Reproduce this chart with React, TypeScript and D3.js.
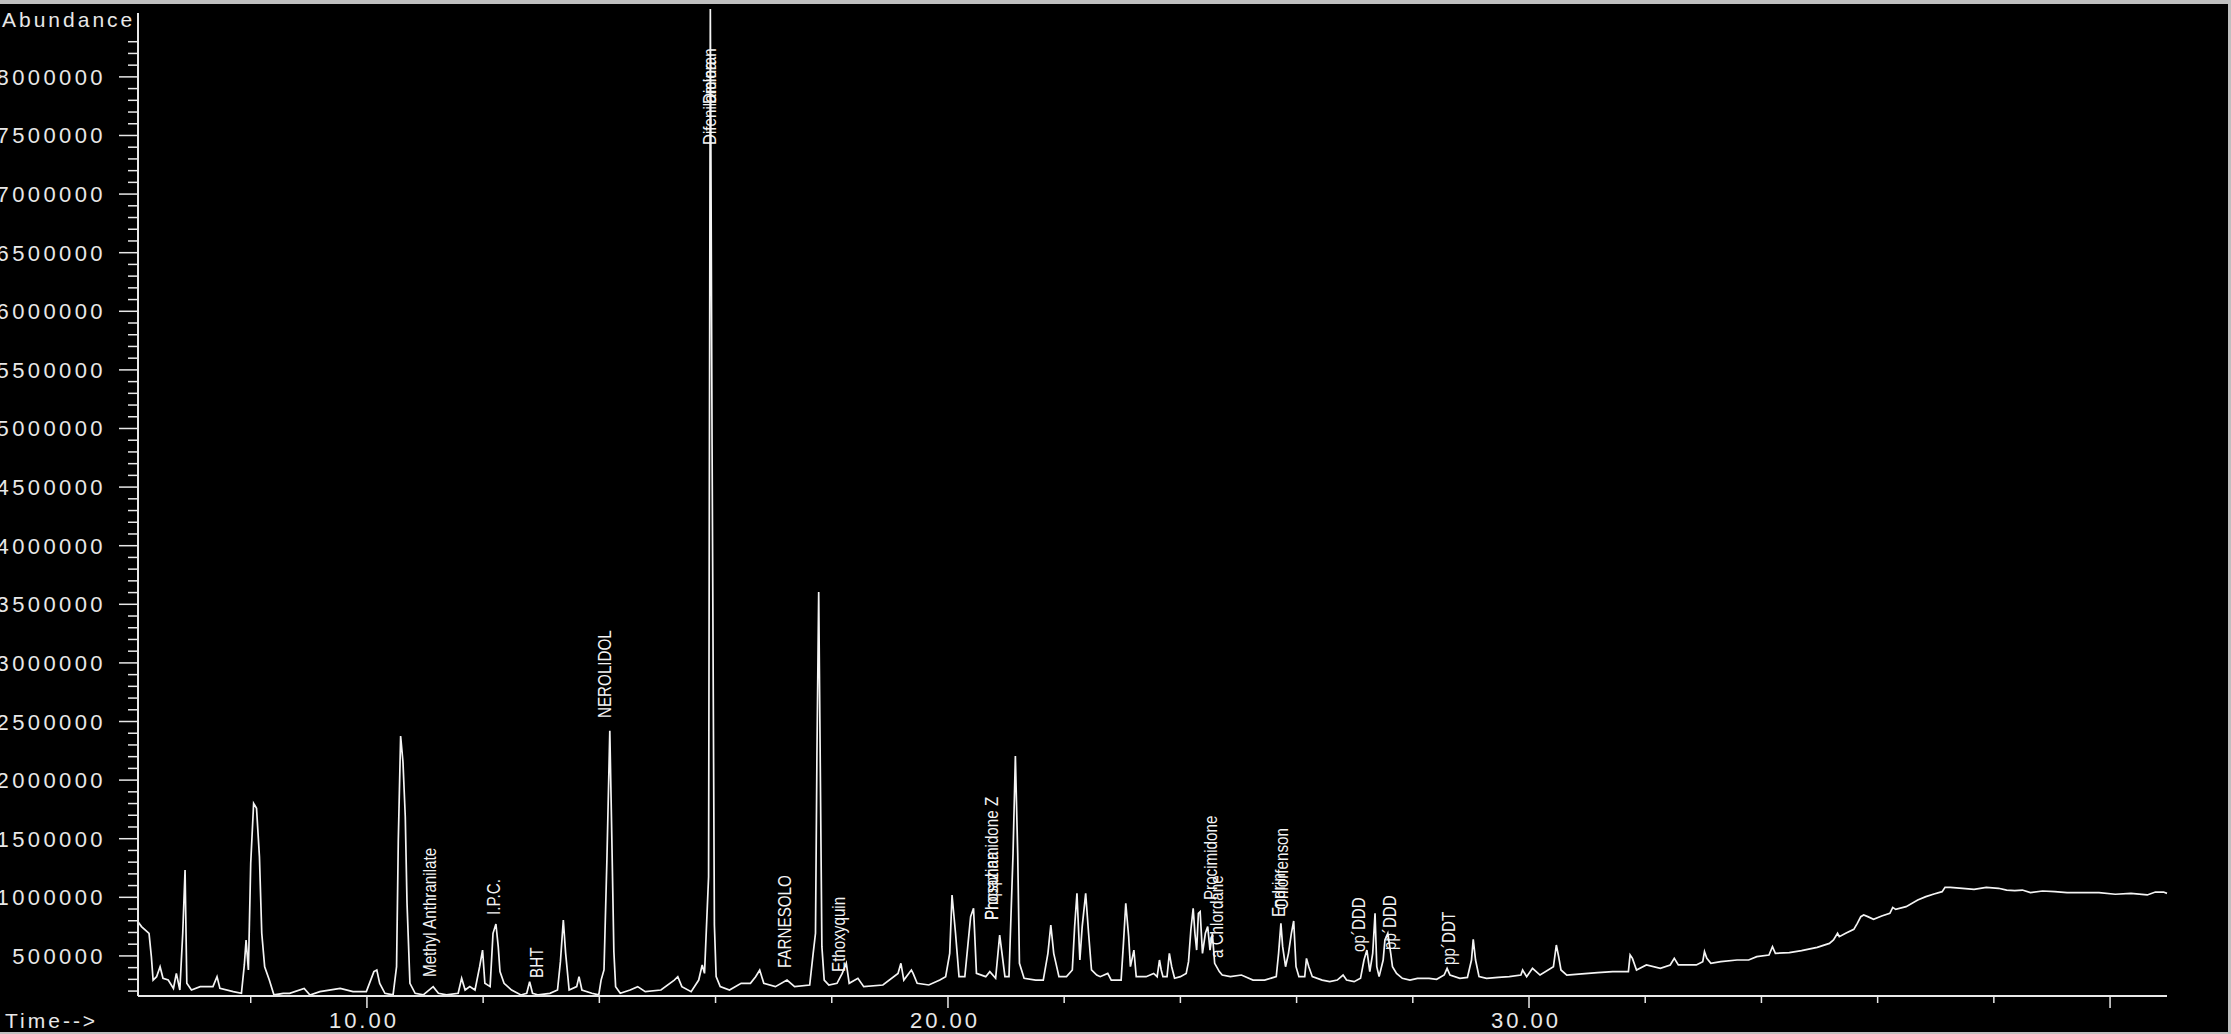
import React from "react";
import * as d3 from "d3";

const WIDTH = 2231;
const HEIGHT = 1034;

// Total ion chromatogram: retention time (min)
const TRACE_TIME = [
  6.06, 6.12, 6.25, 6.29, 6.32, 6.38, 6.44, 6.49, 6.58, 6.67, 6.72, 6.78, 6.83, 6.87, 6.9, 6.98,
  7.13, 7.35, 7.42, 7.47, 7.7, 7.84, 7.89, 7.92, 7.96, 8.0, 8.05, 8.1, 8.15, 8.19, 8.24, 8.32,
  8.4, 8.56, 8.67, 8.92, 9.02, 9.19, 9.54, 9.76, 9.99, 10.12, 10.17, 10.22, 10.31, 10.45, 10.51,
  10.54, 10.58, 10.62, 10.66, 10.69, 10.74, 10.83, 10.97, 11.14, 11.23, 11.37, 11.57, 11.63,
  11.69, 11.77, 11.86, 11.94, 11.99, 12.03, 12.12, 12.17, 12.22, 12.26,
  12.29, 12.36, 12.49, 12.65, 12.75, 12.8, 12.85, 12.95, 13.15, 13.28, 13.33, 13.38, 13.42,
  13.48, 13.61, 13.65, 13.7, 13.87, 13.99, 14.03, 14.08, 14.13, 14.18, 14.21, 14.25, 14.28,
  14.36, 14.53, 14.66, 14.79, 15.06, 15.29, 15.35, 15.42, 15.58, 15.71, 15.77, 15.81, 15.88,
  15.91, 15.94, 15.98, 16.01, 16.08, 16.24, 16.44, 16.6, 16.69, 16.76, 16.83, 17.03, 17.23,
  17.36, 17.62, 17.68, 17.72, 17.745, 17.775, 17.8, 17.83, 17.87, 17.95, 18.09, 18.18, 18.25,
  18.3, 18.45, 18.55, 18.88, 19.14, 19.19, 19.24, 19.37, 19.4, 19.47, 19.67, 19.86, 19.96,
  20.03, 20.07, 20.13, 20.19, 20.29, 20.34, 20.39, 20.44, 20.49, 20.65, 20.72, 20.82, 20.89,
  20.93, 20.98, 21.05, 21.12, 21.16, 21.2, 21.23, 21.31, 21.51, 21.64, 21.72, 21.77, 21.82,
  21.91, 22.04, 22.14, 22.18, 22.22, 22.27, 22.31, 22.37, 22.42, 22.47, 22.56,
  22.62, 22.75, 22.81, 22.98, 23.02, 23.06, 23.11, 23.14, 23.2, 23.24, 23.41, 23.54, 23.6,
  23.64, 23.67, 23.7, 23.77, 23.81, 23.85, 23.9, 24.0, 24.1, 24.14, 24.18, 24.22, 24.25, 24.28,
  24.31, 24.34, 24.38, 24.43, 24.47, 24.51, 24.55, 24.59, 24.67, 24.72, 24.86, 25.05, 25.25,
  25.45, 25.65, 25.69, 25.73, 25.76, 25.81, 25.86, 25.91, 25.95, 25.99, 26.04, 26.14, 26.17,
  26.21, 26.27, 26.44, 26.57, 26.7, 26.8, 26.86, 26.99, 27.1, 27.16, 27.21, 27.26, 27.31,
  27.35, 27.38, 27.42, 27.49, 27.52, 27.57, 27.62, 27.65, 27.72, 27.82, 27.95, 28.08, 28.28,
  28.41, 28.54, 28.59, 28.64, 28.81, 28.94, 29.01, 29.04, 29.08, 29.14, 29.27, 29.47, 29.66,
  29.86, 29.89, 29.96, 30.06, 30.19, 30.42, 30.47, 30.51, 30.55, 30.65, 30.91, 31.18,
  31.44, 31.71, 31.74, 31.78, 31.85, 32.02, 32.26, 32.43, 32.5, 32.57, 32.88, 32.99, 33.02,
  33.06, 33.13, 33.3, 33.58, 33.78, 33.92, 34.13, 34.19, 34.24, 34.48, 34.69, 34.96, 35.17,
  35.24, 35.31, 35.34, 35.45, 35.59, 35.65, 35.71, 35.76, 35.83, 35.93, 36.07, 36.21, 36.26,
  36.31, 36.49, 36.69, 36.83, 36.97, 37.11, 37.16, 37.25, 37.46, 37.66, 37.87, 38.08, 38.22,
  38.36, 38.49, 38.63, 38.84, 39.05, 39.26, 39.53, 39.81, 40.09, 40.36, 40.64, 40.78, 40.92,
  40.98,
];

// Abundance at each retention time (thousands of counts)
const TRACE_ABUNDANCE_K = [
  792, 750, 693, 494, 294, 323, 408, 309, 294, 223, 351, 209, 693, 1233, 266, 209,
  238, 238, 323, 223, 195, 181, 423, 636, 380, 1290, 1802, 1759, 1347, 693, 408, 294,
  167, 181, 181, 223, 167, 195, 223, 195, 195, 366, 380, 266, 181, 167, 408,
  1489, 2376, 2157, 1688, 949, 266, 181, 167, 238, 181, 167, 181, 309,
  209, 238, 209, 408, 550, 266, 238, 693, 772, 579,
  366, 266, 209, 167, 181, 280, 181, 167, 181, 209, 451, 806, 522,
  209, 238, 323, 209, 181, 167, 294, 380, 1318, 2422, 1631, 536, 238,
  181, 209, 238, 195, 209, 294, 323, 238, 195, 294, 423, 351, 1176,
  8580, 4860, 764, 323, 238, 209, 266, 266, 323, 380, 266, 238, 294,
  238, 252, 522, 693, 2222, 3605, 2250, 579, 294, 252, 266, 351, 437,
  266, 309, 238, 252, 351, 437, 294, 380, 351, 266, 252, 294, 323,
  522, 1020, 693, 323, 323, 579, 835, 906, 351, 323, 366, 309, 678,
  522, 323, 323, 1375, 2206, 1375, 437, 309, 294, 294, 522, 764, 522,
  323, 323, 380, 750, 1034, 465, 750, 1034, 693, 380, 337,
  323, 351, 294, 294, 607, 949, 664, 408, 550, 323, 323, 351, 323,
  465, 380, 323, 323, 522, 408, 309, 323, 351, 451, 721, 906, 693, 550,
  863, 878, 522, 693, 750, 550, 693, 437, 366, 337, 323, 337, 294,
  294, 323, 522, 778, 579, 408, 522, 693, 798, 408, 323, 323, 479,
  408, 323, 294, 280, 294, 337, 294, 280, 309, 465, 550, 366, 522,
  863, 408, 323, 465, 636, 693, 522, 408, 351, 309, 294, 309, 309,
  300, 337, 394, 337, 309, 317, 465, 641, 465, 323, 309, 317, 323,
  337, 380, 323, 394, 337, 408, 593, 494, 380, 337, 346, 357,
  366, 366, 508, 479, 380, 423, 394, 423, 479, 423, 423, 451, 536,
  479, 437, 451, 465, 465, 494, 508, 579, 522, 528, 545, 573, 607,
  636, 693, 664, 693, 727, 778, 835, 849, 835, 812, 840, 863, 914,
  897, 920, 977, 1006, 1028, 1048, 1085, 1085, 1077, 1068, 1085, 1077, 1062,
  1057, 1062, 1040, 1054, 1048, 1040, 1040, 1040, 1026, 1034, 1020, 1045, 1045,
  1034,
];

// Axis ticks
const Y_MAJOR_TICKS = d3.range(500000, 8000001, 500000);
const Y_MINOR_TICKS = d3.range(200000, 8300001, 100000).filter((v) => v % 500000 !== 0);
const X_MAJOR_TICKS = [10, 20, 30, 40];
const X_TICK_LABELS = ["10.00", "20.00", "30.00", ""];
const X_MINOR_TICKS = d3.range(8, 41, 2).filter((t) => t % 10 !== 0);

// Identified compounds: name, retention time and label base (thousands of counts)
const PEAK_NAMES = [
  "Methyl Anthranilate", "I.P.C.", "BHT", "NEROLIDOL", "Difenilamina", "Dicloran",
  "FARNESOLO", "Ethoxyquin", "Phosphamidone Z", "Propazina", "Procimidone", "a Chlordane",
  "Chlorfenson", "Endrin", "op´DDD", "pp´DDD", "pp´DDT",
];
const PEAK_TIMES = [
  11.1, 12.2, 12.94, 14.11, 15.92, 15.92,
  17.21, 18.14, 20.77, 20.77, 24.54, 24.65,
  25.77, 25.72, 27.09, 27.63, 28.64,
];
const PEAK_LABEL_BASE_K = [
  320, 849, 312, 2530, 7419, 7768,
  397, 363, 806, 806, 977, 482,
  892, 832, 533, 550, 423,
];

const FONT = "'Liberation Sans', Arial, sans-serif";
const FG = "#e8e8e8";

export default function App() {
  const x = d3.scaleLinear().domain([6.06, 40.98]).range([138, 2167]);
  const y = d3.scaleLinear().domain([158000, 8545000]).range([996, 13]);

  const points = TRACE_TIME.map((t, i) => [t, TRACE_ABUNDANCE_K[i] * 1000] as [number, number]);
  const line = d3
    .line<[number, number]>()
    .x((d) => x(d[0]))
    .y((d) => y(d[1]));

  const fmt = d3.format("d");
  const [yTop, yBottom] = [y.range()[1], y.range()[0]];
  const [xLeft, xRight] = x.range();

  return (
    <svg
      width={WIDTH}
      height={HEIGHT}
      style={{ position: "absolute", left: 0, top: 0, display: "block" }}
      fontFamily={FONT}
    >
      <rect x={0} y={0} width={WIDTH} height={HEIGHT} fill="#000" />
      {/* window frame edges */}
      <rect x={0} y={0} width={WIDTH} height={4} fill="#bfbfbf" />
      <rect x={0} y={HEIGHT - 2} width={WIDTH} height={2} fill="#bfbfbf" />
      <rect x={WIDTH - 3} y={0} width={3} height={HEIGHT} fill="#bfbfbf" />

      {/* chromatogram trace */}
      <path d={line(points) ?? ""} fill="none" stroke="#f4f4f4" strokeWidth={1.7} strokeLinejoin="miter" />

      {/* y axis */}
      <line x1={xLeft} x2={xLeft} y1={yTop} y2={yBottom} stroke={FG} strokeWidth={2} />
      {Y_MINOR_TICKS.map((v) => (
        <line key={"ym" + v} x1={xLeft - 10} x2={xLeft} y1={y(v)} y2={y(v)} stroke={FG} strokeWidth={1.5} />
      ))}
      {Y_MAJOR_TICKS.map((v) => (
        <g key={"yM" + v}>
          <line x1={xLeft - 19} x2={xLeft} y1={y(v)} y2={y(v)} stroke={FG} strokeWidth={1.5} />
          <text x={106} y={y(v) + 8} textAnchor="end" fontSize={22} letterSpacing={3.4} fill={FG}>
            {fmt(v)}
          </text>
        </g>
      ))}
      <text x={2} y={27} fontSize={21} letterSpacing={3} fill={FG}>
        Abundance
      </text>

      {/* x axis */}
      <line x1={xLeft} x2={xRight} y1={yBottom} y2={yBottom} stroke={FG} strokeWidth={2} />
      {X_MINOR_TICKS.map((t) => (
        <line key={"xm" + t} x1={x(t)} x2={x(t)} y1={yBottom} y2={yBottom + 7} stroke={FG} strokeWidth={1.5} />
      ))}
      {X_MAJOR_TICKS.map((t, i) => (
        <g key={"xM" + t}>
          <line x1={x(t)} x2={x(t)} y1={yBottom} y2={yBottom + 12} stroke={FG} strokeWidth={1.5} />
          <text x={x(t) - 3} y={1028} textAnchor="middle" fontSize={22} letterSpacing={3} fill={FG}>
            {X_TICK_LABELS[i]}
          </text>
        </g>
      ))}
      <text x={5} y={1028} fontSize={21} letterSpacing={3} fill={FG}>
        Time--&gt;
      </text>

      {/* compound labels */}
      {PEAK_NAMES.map((name, i) => (
        <text
          key={"pk" + i}
          transform={`translate(${x(PEAK_TIMES[i])},${y(PEAK_LABEL_BASE_K[i] * 1000)}) rotate(-90) scale(0.8,1)`}
          fontSize={19}
          dominantBaseline="middle"
          fill="#f4f4f4"
        >
          {name}
        </text>
      ))}
    </svg>
  );
}
